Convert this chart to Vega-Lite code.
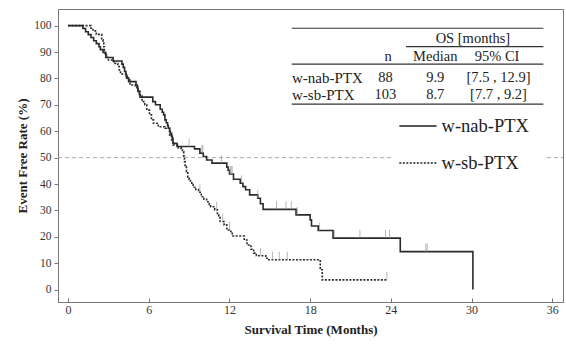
{
  "$schema": "https://vega.github.io/schema/vega-lite/v6.json",
  "width": 505,
  "height": 293,
  "autosize": "none",
  "padding": {"left": 58, "top": 9, "right": 3, "bottom": 42},
  "background": "white",
  "config": {
    "view": {"stroke": "#777", "strokeWidth": 1},
    "font": "Liberation Serif",
    "axis": {
      "grid": false,
      "labelFont": "Liberation Serif",
      "labelFontSize": 12,
      "labelColor": "#333",
      "domainColor": "#777",
      "tickColor": "#777",
      "titleFont": "Liberation Serif",
      "titleFontSize": 13,
      "titleFontWeight": "bold",
      "titleColor": "#222"
    },
    "axisY": {"labelOverlap": false, "tickCount": 11}
  },
  "datasets": {
    "km": [
      {"g": "w-nab-PTX", "t": 0, "s": 100},
      {"g": "w-nab-PTX", "t": 1.1, "s": 98.9},
      {"g": "w-nab-PTX", "t": 1.3, "s": 97.7},
      {"g": "w-nab-PTX", "t": 1.5, "s": 96.6},
      {"g": "w-nab-PTX", "t": 1.7, "s": 95.5},
      {"g": "w-nab-PTX", "t": 1.9, "s": 94.3},
      {"g": "w-nab-PTX", "t": 2.1, "s": 93.2},
      {"g": "w-nab-PTX", "t": 2.3, "s": 92.0},
      {"g": "w-nab-PTX", "t": 2.4, "s": 90.9},
      {"g": "w-nab-PTX", "t": 2.6, "s": 89.8},
      {"g": "w-nab-PTX", "t": 2.8, "s": 87.9},
      {"g": "w-nab-PTX", "t": 3.35, "s": 86.6},
      {"g": "w-nab-PTX", "t": 4.0, "s": 85.4},
      {"g": "w-nab-PTX", "t": 4.1, "s": 84.2},
      {"g": "w-nab-PTX", "t": 4.2, "s": 82.6},
      {"g": "w-nab-PTX", "t": 4.3, "s": 81.4},
      {"g": "w-nab-PTX", "t": 4.35, "s": 80.1},
      {"g": "w-nab-PTX", "t": 4.5, "s": 78.8},
      {"g": "w-nab-PTX", "t": 5.05, "s": 77.5},
      {"g": "w-nab-PTX", "t": 5.15, "s": 76.3},
      {"g": "w-nab-PTX", "t": 5.2, "s": 75.1},
      {"g": "w-nab-PTX", "t": 5.3, "s": 73.9},
      {"g": "w-nab-PTX", "t": 5.35, "s": 72.9},
      {"g": "w-nab-PTX", "t": 6.3, "s": 71.2},
      {"g": "w-nab-PTX", "t": 6.5, "s": 70.0},
      {"g": "w-nab-PTX", "t": 6.85, "s": 68.3},
      {"g": "w-nab-PTX", "t": 7.0, "s": 67.2},
      {"g": "w-nab-PTX", "t": 7.1, "s": 66.2},
      {"g": "w-nab-PTX", "t": 7.2, "s": 64.3},
      {"g": "w-nab-PTX", "t": 7.3, "s": 63.2},
      {"g": "w-nab-PTX", "t": 7.4, "s": 62.1},
      {"g": "w-nab-PTX", "t": 7.45, "s": 61.1},
      {"g": "w-nab-PTX", "t": 7.55, "s": 60.1},
      {"g": "w-nab-PTX", "t": 7.6, "s": 59.2},
      {"g": "w-nab-PTX", "t": 7.7, "s": 58.1},
      {"g": "w-nab-PTX", "t": 7.75, "s": 57.3},
      {"g": "w-nab-PTX", "t": 7.8, "s": 55.4},
      {"g": "w-nab-PTX", "t": 8.1, "s": 54.2},
      {"g": "w-nab-PTX", "t": 9.4, "s": 53.3},
      {"g": "w-nab-PTX", "t": 9.8, "s": 51.7},
      {"g": "w-nab-PTX", "t": 10.05, "s": 50.4},
      {"g": "w-nab-PTX", "t": 10.3, "s": 49.1},
      {"g": "w-nab-PTX", "t": 10.7, "s": 47.9},
      {"g": "w-nab-PTX", "t": 11.8, "s": 46.4},
      {"g": "w-nab-PTX", "t": 11.9, "s": 45.2},
      {"g": "w-nab-PTX", "t": 12.0, "s": 43.8},
      {"g": "w-nab-PTX", "t": 12.3, "s": 41.8},
      {"g": "w-nab-PTX", "t": 12.8, "s": 40.3},
      {"g": "w-nab-PTX", "t": 13.0, "s": 39.0},
      {"g": "w-nab-PTX", "t": 13.2, "s": 37.8},
      {"g": "w-nab-PTX", "t": 13.5, "s": 35.9},
      {"g": "w-nab-PTX", "t": 14.1, "s": 34.6},
      {"g": "w-nab-PTX", "t": 14.3, "s": 32.5},
      {"g": "w-nab-PTX", "t": 14.5, "s": 30.4},
      {"g": "w-nab-PTX", "t": 16.95, "s": 28.3},
      {"g": "w-nab-PTX", "t": 18.0, "s": 26.4},
      {"g": "w-nab-PTX", "t": 18.1, "s": 24.1},
      {"g": "w-nab-PTX", "t": 18.6, "s": 22.4},
      {"g": "w-nab-PTX", "t": 19.7, "s": 19.5},
      {"g": "w-nab-PTX", "t": 24.7, "s": 14.4},
      {"g": "w-nab-PTX", "t": 30.1, "s": 0},
      {"g": "w-sb-PTX", "t": 0, "s": 100},
      {"g": "w-sb-PTX", "t": 1.7, "s": 99.0},
      {"g": "w-sb-PTX", "t": 1.85, "s": 98.0},
      {"g": "w-sb-PTX", "t": 2.1, "s": 96.7},
      {"g": "w-sb-PTX", "t": 2.5, "s": 94.6},
      {"g": "w-sb-PTX", "t": 2.6, "s": 93.5},
      {"g": "w-sb-PTX", "t": 2.65, "s": 92.0},
      {"g": "w-sb-PTX", "t": 2.7, "s": 90.5},
      {"g": "w-sb-PTX", "t": 2.75, "s": 89.5},
      {"g": "w-sb-PTX", "t": 2.85, "s": 88.0},
      {"g": "w-sb-PTX", "t": 3.0, "s": 87.0},
      {"g": "w-sb-PTX", "t": 3.4, "s": 85.7},
      {"g": "w-sb-PTX", "t": 3.7, "s": 84.5},
      {"g": "w-sb-PTX", "t": 3.8, "s": 83.2},
      {"g": "w-sb-PTX", "t": 3.9, "s": 81.7},
      {"g": "w-sb-PTX", "t": 4.3, "s": 80.8},
      {"g": "w-sb-PTX", "t": 4.4, "s": 80.0},
      {"g": "w-sb-PTX", "t": 4.6, "s": 77.5},
      {"g": "w-sb-PTX", "t": 5.0, "s": 76.7},
      {"g": "w-sb-PTX", "t": 5.2, "s": 75.0},
      {"g": "w-sb-PTX", "t": 5.35, "s": 73.7},
      {"g": "w-sb-PTX", "t": 5.5, "s": 71.2},
      {"g": "w-sb-PTX", "t": 5.7, "s": 70.0},
      {"g": "w-sb-PTX", "t": 5.85, "s": 68.0},
      {"g": "w-sb-PTX", "t": 6.05, "s": 66.2},
      {"g": "w-sb-PTX", "t": 6.2, "s": 64.3},
      {"g": "w-sb-PTX", "t": 6.35, "s": 63.0},
      {"g": "w-sb-PTX", "t": 6.7, "s": 61.7},
      {"g": "w-sb-PTX", "t": 7.2, "s": 61.1},
      {"g": "w-sb-PTX", "t": 7.55, "s": 58.6},
      {"g": "w-sb-PTX", "t": 7.7, "s": 56.7},
      {"g": "w-sb-PTX", "t": 7.8, "s": 54.8},
      {"g": "w-sb-PTX", "t": 8.2, "s": 53.6},
      {"g": "w-sb-PTX", "t": 8.5, "s": 52.3},
      {"g": "w-sb-PTX", "t": 8.6, "s": 50.5},
      {"g": "w-sb-PTX", "t": 8.65, "s": 48.5},
      {"g": "w-sb-PTX", "t": 8.7, "s": 46.6},
      {"g": "w-sb-PTX", "t": 8.8, "s": 44.7},
      {"g": "w-sb-PTX", "t": 8.9, "s": 42.7},
      {"g": "w-sb-PTX", "t": 9.0, "s": 41.7},
      {"g": "w-sb-PTX", "t": 9.1, "s": 40.8},
      {"g": "w-sb-PTX", "t": 9.2, "s": 39.8},
      {"g": "w-sb-PTX", "t": 9.3, "s": 38.8},
      {"g": "w-sb-PTX", "t": 9.5, "s": 37.9},
      {"g": "w-sb-PTX", "t": 9.7, "s": 36.9},
      {"g": "w-sb-PTX", "t": 9.9, "s": 35.2},
      {"g": "w-sb-PTX", "t": 10.1, "s": 34.2},
      {"g": "w-sb-PTX", "t": 10.3, "s": 33.3},
      {"g": "w-sb-PTX", "t": 10.5, "s": 32.3},
      {"g": "w-sb-PTX", "t": 10.6, "s": 31.4},
      {"g": "w-sb-PTX", "t": 10.9, "s": 30.2},
      {"g": "w-sb-PTX", "t": 11.1, "s": 28.3},
      {"g": "w-sb-PTX", "t": 11.2, "s": 27.3},
      {"g": "w-sb-PTX", "t": 11.3, "s": 25.8},
      {"g": "w-sb-PTX", "t": 11.6, "s": 24.5},
      {"g": "w-sb-PTX", "t": 11.8, "s": 22.6},
      {"g": "w-sb-PTX", "t": 12.1, "s": 22.0},
      {"g": "w-sb-PTX", "t": 12.2, "s": 20.3},
      {"g": "w-sb-PTX", "t": 13.1, "s": 18.8},
      {"g": "w-sb-PTX", "t": 13.3, "s": 16.9},
      {"g": "w-sb-PTX", "t": 13.6, "s": 15.3},
      {"g": "w-sb-PTX", "t": 13.8, "s": 13.8},
      {"g": "w-sb-PTX", "t": 14.0, "s": 12.8},
      {"g": "w-sb-PTX", "t": 14.7, "s": 11.9},
      {"g": "w-sb-PTX", "t": 14.8, "s": 11.3},
      {"g": "w-sb-PTX", "t": 18.75, "s": 7.5},
      {"g": "w-sb-PTX", "t": 18.9, "s": 3.7},
      {"g": "w-sb-PTX", "t": 23.7, "s": 3.7}
    ],
    "censor": [
      {"g": "w-nab-PTX", "t": 9.0, "s": 54.2},
      {"g": "w-nab-PTX", "t": 9.95, "s": 51.7},
      {"g": "w-nab-PTX", "t": 10.02, "s": 51.7},
      {"g": "w-nab-PTX", "t": 11.4, "s": 47.9},
      {"g": "w-nab-PTX", "t": 12.05, "s": 43.8},
      {"g": "w-nab-PTX", "t": 12.12, "s": 43.8},
      {"g": "w-nab-PTX", "t": 12.2, "s": 43.8},
      {"g": "w-nab-PTX", "t": 12.9, "s": 40.3},
      {"g": "w-nab-PTX", "t": 14.1, "s": 34.6},
      {"g": "w-nab-PTX", "t": 15.5, "s": 30.4},
      {"g": "w-nab-PTX", "t": 16.2, "s": 30.4},
      {"g": "w-nab-PTX", "t": 16.6, "s": 30.4},
      {"g": "w-nab-PTX", "t": 17.05, "s": 28.3},
      {"g": "w-nab-PTX", "t": 18.7, "s": 22.4},
      {"g": "w-nab-PTX", "t": 19.8, "s": 19.5},
      {"g": "w-nab-PTX", "t": 21.7, "s": 19.5},
      {"g": "w-nab-PTX", "t": 23.6, "s": 19.5},
      {"g": "w-nab-PTX", "t": 23.9, "s": 19.5},
      {"g": "w-nab-PTX", "t": 26.6, "s": 14.4},
      {"g": "w-nab-PTX", "t": 26.7, "s": 14.4},
      {"g": "w-sb-PTX", "t": 9.8, "s": 36.9},
      {"g": "w-sb-PTX", "t": 11.05, "s": 30.2},
      {"g": "w-sb-PTX", "t": 11.5, "s": 25.8},
      {"g": "w-sb-PTX", "t": 12.0, "s": 22.6},
      {"g": "w-sb-PTX", "t": 14.3, "s": 12.8},
      {"g": "w-sb-PTX", "t": 15.2, "s": 11.3},
      {"g": "w-sb-PTX", "t": 15.7, "s": 11.3},
      {"g": "w-sb-PTX", "t": 16.3, "s": 11.3},
      {"g": "w-sb-PTX", "t": 23.7, "s": 3.7}
    ],
    "refline": [
      {"x1": -0.75, "x2": 24.16, "y": 50},
      {"x1": 35.6, "x2": 36.8, "y": 50}
    ],
    "tablelines": [
      {"x1": 16.63, "x2": 35.34, "y": 99.0},
      {"x1": 25.13, "x2": 35.34, "y": 92.05},
      {"x1": 16.63, "x2": 35.34, "y": 85.4},
      {"x1": 16.63, "x2": 35.34, "y": 70.3}
    ],
    "tablecells": [
      {"text": "OS [months]", "x": 30.1, "y": 94.9},
      {"text": "n", "x": 23.8, "y": 88.1},
      {"text": "Median", "x": 27.3, "y": 88.1},
      {"text": "95% CI", "x": 31.9, "y": 88.1},
      {"text": "88", "x": 23.6, "y": 80.0},
      {"text": "9.9", "x": 27.3, "y": 80.0},
      {"text": "[7.5 , 12.9]", "x": 32.0, "y": 80.0},
      {"text": "103", "x": 23.6, "y": 73.7},
      {"text": "8.7", "x": 27.3, "y": 73.7},
      {"text": "[7.7 , 9.2]", "x": 32.0, "y": 73.7}
    ],
    "tablerows": [
      {"text": "w-nab-PTX", "x": 16.65, "y": 80.0},
      {"text": "w-sb-PTX", "x": 16.65, "y": 73.7}
    ],
    "legend": [
      {"g": "w-nab-PTX", "x1": 24.63, "x2": 27.4, "y": 62.0},
      {"g": "w-sb-PTX", "x1": 24.63, "x2": 27.4, "y": 48.0}
    ]
  },
  "layer": [
    {
      "data": {"name": "refline"},
      "mark": {"type": "rule", "color": "#aaa", "strokeWidth": 1, "strokeDash": [4, 3]},
      "encoding": {
        "x": {"field": "x1", "type": "quantitative", "scale": {"domain": [-0.75, 36.8], "nice": false, "zero": false},
          "axis": {"values": [0, 6, 12, 18, 24, 30, 36], "title": "Survival Time (Months)", "tickSize": -4, "labelPadding": 6, "titlePadding": 8, "labelOverlap": false}},
        "x2": {"field": "x2"},
        "y": {"field": "y", "type": "quantitative", "scale": {"domain": [-4.7, 106.3], "nice": false, "zero": false},
          "axis": {"values": [0, 10, 20, 30, 40, 50, 60, 70, 80, 90, 100], "title": "Event Free Rate (%)", "tickSize": 4, "labelPadding": 3, "titlePadding": 4, "labelOverlap": false, "labelFontSize": 11.5}}
      }
    },
    {
      "data": {"name": "km"},
      "mark": {"type": "line", "interpolate": "step-after", "strokeWidth": 1.6, "color": "#2a2a2a"},
      "encoding": {
        "x": {"field": "t", "type": "quantitative"},
        "y": {"field": "s", "type": "quantitative", "axis": {"values": [0, 10, 20, 30, 40, 50, 60, 70, 80, 90, 100], "title": "Event Free Rate (%)", "tickSize": 4, "labelPadding": 3, "titlePadding": 4, "labelOverlap": false, "labelFontSize": 11.5}},
        "detail": {"field": "g"},
        "strokeDash": {"field": "g", "type": "nominal", "scale": {"domain": ["w-nab-PTX", "w-sb-PTX"], "range": [[1, 0], [2, 1.5]]}, "legend": null}
      }
    },
    {
      "data": {"name": "censor"},
      "mark": {"type": "tick", "orient": "vertical", "size": 8, "thickness": 1, "yOffset": -4, "color": "#999"},
      "encoding": {
        "x": {"field": "t", "type": "quantitative"},
        "y": {"field": "s", "type": "quantitative"}
      }
    },
    {
      "data": {"name": "tablelines"},
      "mark": {"type": "rule", "color": "#333", "strokeWidth": 1.2},
      "encoding": {
        "x": {"field": "x1", "type": "quantitative"},
        "x2": {"field": "x2"},
        "y": {"field": "y", "type": "quantitative"}
      }
    },
    {
      "data": {"name": "tablecells"},
      "mark": {"type": "text", "font": "Liberation Serif", "fontSize": 14.5, "color": "#222", "align": "center", "baseline": "middle"},
      "encoding": {
        "x": {"field": "x", "type": "quantitative"},
        "y": {"field": "y", "type": "quantitative"},
        "text": {"field": "text"}
      }
    },
    {
      "data": {"name": "tablerows"},
      "mark": {"type": "text", "font": "Liberation Serif", "fontSize": 15, "color": "#222", "align": "left", "baseline": "middle"},
      "encoding": {
        "x": {"field": "x", "type": "quantitative"},
        "y": {"field": "y", "type": "quantitative"},
        "text": {"field": "text"}
      }
    },
    {
      "data": {"name": "legend"},
      "mark": {"type": "rule", "color": "#222", "strokeWidth": 1.5},
      "encoding": {
        "x": {"field": "x1", "type": "quantitative"},
        "x2": {"field": "x2"},
        "y": {"field": "y", "type": "quantitative"},
        "strokeDash": {"field": "g", "type": "nominal", "legend": null}
      }
    },
    {
      "data": {"name": "legend"},
      "mark": {"type": "text", "font": "Liberation Serif", "fontSize": 18.5, "color": "#222", "align": "left", "baseline": "middle", "dx": 5},
      "encoding": {
        "x": {"field": "x2", "type": "quantitative"},
        "y": {"field": "y", "type": "quantitative"},
        "text": {"field": "g"}
      }
    }
  ]
}
